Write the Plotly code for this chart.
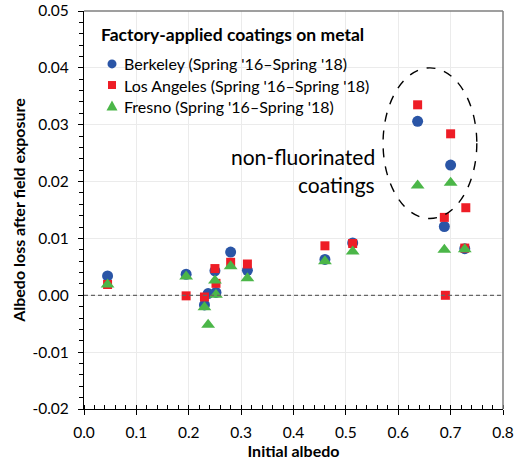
import plotly.graph_objects as go

# Initial albedo (x) and albedo loss after field exposure (y) per site
berkeley_x = [0.045, 0.195, 0.230, 0.237, 0.250, 0.252, 0.280, 0.312, 0.460, 0.513, 0.637, 0.688, 0.700, 0.727]
berkeley_y = [0.0034, 0.0037, -0.0017, 0.0003, 0.0043, 0.0005, 0.0076, 0.0044, 0.0063, 0.0092, 0.0306, 0.0121, 0.0229, 0.0082]

la_x = [0.045, 0.195, 0.230, 0.250, 0.252, 0.280, 0.312, 0.460, 0.513, 0.637, 0.688, 0.690, 0.700, 0.729, 0.727]
la_y = [0.0019, -0.0001, -0.0003, 0.0047, 0.0021, 0.0058, 0.0055, 0.0087, 0.0091, 0.0335, 0.0137, 0.0000, 0.0284, 0.0154, 0.0083]

fresno_x = [0.045, 0.195, 0.230, 0.237, 0.250, 0.252, 0.280, 0.312, 0.460, 0.513, 0.637, 0.688, 0.700, 0.727]
fresno_y = [0.0019, 0.0033, -0.0021, -0.0052, 0.0026, 0.0001, 0.0051, 0.0030, 0.0060, 0.0077, 0.0193, 0.0080, 0.0198, 0.0081]

series_names = ["Berkeley (Spring '16\u2013Spring '18)",
                "Los Angeles (Spring '16\u2013Spring '18)",
                "Fresno (Spring '16\u2013Spring '18)"]
legend_title = "Factory-applied coatings on metal"

x_ticks = [0.0, 0.1, 0.2, 0.3, 0.4, 0.5, 0.6, 0.7, 0.8]
y_ticks = [-0.02, -0.01, 0.0, 0.01, 0.02, 0.03, 0.04, 0.05]

FONT = "Lato, 'Open Sans', sans-serif"
BLUE, RED, GREEN = "#2A55A6", "#EE1D26", "#4BB648"

fig = go.Figure()
fig.add_trace(go.Scatter(x=berkeley_x, y=berkeley_y, mode="markers", name=series_names[0],
                         marker=dict(symbol="circle", size=11, color=BLUE)))
fig.add_trace(go.Scatter(x=la_x, y=la_y, mode="markers", name=series_names[1],
                         marker=dict(symbol="square", size=9, color=RED)))
fig.add_trace(go.Scatter(x=fresno_x, y=fresno_y, mode="markers", name=series_names[2],
                         marker=dict(symbol="triangle-up", size=12, color=GREEN)))

# dashed zero reference line
fig.add_shape(type="line", xref="paper", x0=0, x1=1, yref="y", y0=0, y1=0,
              line=dict(color="#666666", width=1.3, dash="4px,3px"))
# dashed ellipse around the non-fluorinated coatings
fig.add_shape(type="circle", xref="x", yref="y", x0=0.571, x1=0.750, y0=0.0135, y1=0.0400,
              line=dict(color="black", width=1.4, dash="dash"))
# plot area frame (top and right)
fig.add_shape(type="line", xref="paper", yref="paper", x0=1, x1=1, y0=0, y1=1,
              line=dict(color="#7F7F7F", width=1.5))
fig.add_shape(type="line", xref="paper", yref="paper", x0=0, x1=1, y0=1, y1=1,
              line=dict(color="#7F7F7F", width=1.5))

fig.add_annotation(x=0.560, y=0.0244, xref="x", yref="y", text="non-fluorinated",
                   showarrow=False, xanchor="right", font=dict(family=FONT, size=21, color="black"))
fig.add_annotation(x=0.560, y=0.0194, xref="x", yref="y", text="coatings",
                   showarrow=False, xanchor="right", font=dict(family=FONT, size=21, color="black"))

# in-plot legend: title, symbols and labels
fig.add_annotation(x=0.036, y=0.94, xref="paper", yref="paper", text=f"<b>{legend_title}</b>",
                   showarrow=False, xanchor="left", yanchor="middle",
                   font=dict(family=FONT, size=17.5, color="black"))
legend_rows = [0.867, 0.814, 0.761]
mx = 0.0668
fig.add_shape(type="circle", xref="paper", yref="paper", xsizemode="pixel", ysizemode="pixel",
              xanchor=mx, yanchor=legend_rows[0], x0=-4.5, x1=4.5, y0=-4.5, y1=4.5,
              fillcolor=BLUE, line=dict(width=0))
fig.add_shape(type="rect", xref="paper", yref="paper", xsizemode="pixel", ysizemode="pixel",
              xanchor=mx, yanchor=legend_rows[1], x0=-4, x1=4, y0=-4, y1=4,
              fillcolor=RED, line=dict(width=0))
fig.add_shape(type="path", xref="paper", yref="paper", xsizemode="pixel", ysizemode="pixel",
              xanchor=mx, yanchor=legend_rows[2], path="M -5.5 -4.5 L 5.5 -4.5 L 0 5.5 Z",
              fillcolor=GREEN, line=dict(width=0))
for name, yr in zip(series_names, legend_rows):
    fig.add_annotation(x=0.0907, y=yr, xref="paper", yref="paper", text=name,
                       showarrow=False, xanchor="left", yanchor="middle",
                       font=dict(family=FONT, size=16, color="black"))

fig.update_layout(
    width=520, height=465,
    margin=dict(l=84, r=17, t=11, b=56, autoexpand=False),
    paper_bgcolor="white", plot_bgcolor="white",
    font=dict(family=FONT, size=15.5, color="black"),
    showlegend=False,
)

fig.update_xaxes(
    range=[0, 0.8], tickvals=x_ticks, ticktext=[f"{v:.1f}" for v in x_ticks],
    showgrid=True, gridcolor="#EBEBEB", gridwidth=1,
    showline=True, linecolor="black", linewidth=1.2,
    ticks="outside", ticklen=5, tickcolor="black", ticklabelstandoff=4,
    minor=dict(dtick=0.02, ticks="inside", ticklen=4, tickcolor="black", showgrid=False),
    zeroline=False, automargin=False,
    title=dict(text="<b>Initial albedo</b>", font=dict(size=16, family=FONT), standoff=6),
    tickfont=dict(size=15.5),
)
fig.update_yaxes(
    range=[-0.02, 0.05], tickvals=y_ticks, ticktext=[f"{v:.2f}" for v in y_ticks],
    showgrid=True, gridcolor="#EBEBEB", gridwidth=1,
    showline=True, linecolor="black", linewidth=1.2,
    ticks="outside", ticklen=5, tickcolor="black", ticklabelstandoff=6,
    minor=dict(dtick=0.002, ticks="outside", ticklen=4, tickcolor="black", showgrid=False),
    zeroline=False, automargin=False,
    title=dict(text="<b>Albedo loss after field exposure</b>", font=dict(size=16, family=FONT), standoff=2),
    tickfont=dict(size=15.5),
)

fig.write_html("out.html")
